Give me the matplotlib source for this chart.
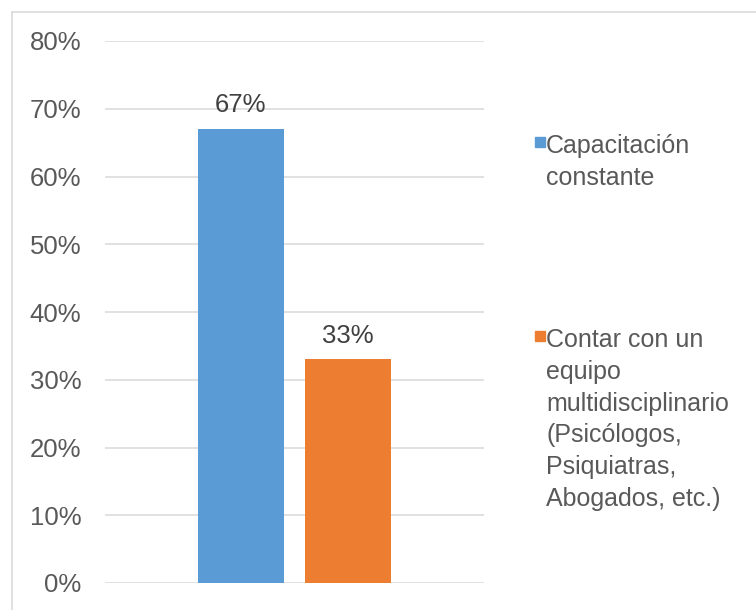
import matplotlib
matplotlib.use("Agg")
import matplotlib.pyplot as plt
from matplotlib.lines import Line2D
from matplotlib.patches import Rectangle

categories = ["Capacitación\nconstante",
              "Contar con un\nequipo\nmultidisciplinario\n(Psicólogos,\nPsiquiatras,\nAbogados, etc.)"]
values = [0.67, 0.33]
labels = ["67%", "33%"]
colors = ["#5B9BD5", "#ED7D31"]
yticks = [0.0, 0.1, 0.2, 0.3, 0.4, 0.5, 0.6, 0.7, 0.8]
ytick_labels = ["0%", "10%", "20%", "30%", "40%", "50%", "60%", "70%", "80%"]

W, H = 756, 610
plt.rcParams['font.family'] = ['Liberation Sans', 'DejaVu Sans']
FS = 18.5
fig = plt.figure(figsize=(W / 100, H / 100), dpi=100)
ax = fig.add_axes([105 / W, 1 - 583 / H, (484 - 105) / W, (583 - 41) / H])

width = 0.227
offsets = [-0.1415, 0.1415]
for v, lab, c, off in zip(values, labels, colors, offsets):
    ax.bar(off, v, width=width, color=c, zorder=3)
    ax.annotate(lab, (off, v), xytext=(0, 8.5), textcoords="offset points",
                ha="center", va="bottom", fontsize=FS, color="#404040", zorder=4)

ax.set_xlim(-0.5, 0.5)
ax.set_ylim(0, 0.8)
ax.set_yticks(yticks)
ax.set_yticklabels(ytick_labels)
ax.set_xticks([])
ax.tick_params(axis="y", length=0, pad=17, labelsize=FS, labelcolor="#595959")
for s in ax.spines.values():
    s.set_visible(False)
ax.yaxis.grid(True, color="#D9D9D9", linewidth=1.1, zorder=0)
ax.set_axisbelow(True)

# legend (manual, Excel style)
leg_tops = [137, 331]
for cat, c, top in zip(categories, colors, leg_tops):
    fig.patches.append(Rectangle((535 / W, 1 - (top + 10) / H), 10 / W, 10 / H,
                                 transform=fig.transFigure, color=c))
    fig.text(546 / W, 1 - (top - 3) / H, cat, ha="left", va="top", fontsize=18,
             color="#595959", linespacing=1.41)

# outer border
fig.add_artist(Line2D([11.5 / W, 1], [1 - 11.5 / H, 1 - 11.5 / H],
                      transform=fig.transFigure, color="#D9D9D9", linewidth=1.1))
fig.add_artist(Line2D([11.5 / W, 11.5 / W], [0, 1 - 11.5 / H],
                      transform=fig.transFigure, color="#D9D9D9", linewidth=1.1))

fig.savefig("out.png", dpi=100)
